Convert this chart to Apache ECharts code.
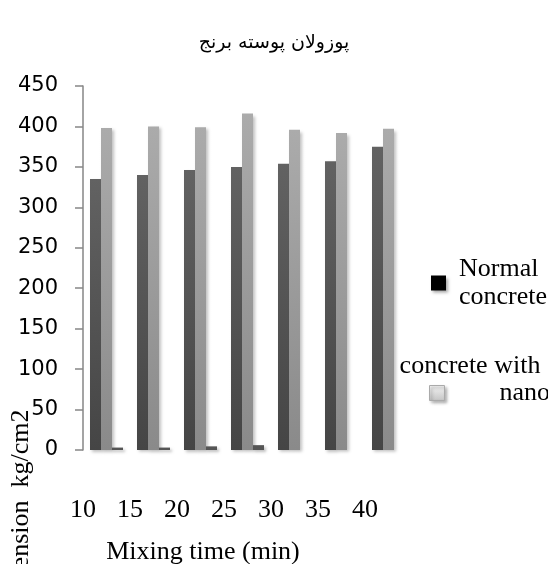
<!DOCTYPE html>
<html><head><meta charset="utf-8">
<script src="https://cdn.jsdelivr.net/npm/echarts@6/dist/echarts.min.js"></script>
<style>html,body{margin:0;padding:0;background:#fff}#c{width:548px;height:564px}</style>
</head><body><div id="c"></div>
<script>
const titleText = 'پوزولان پوسته برنج';
const categories = ['10', '15', '20', '25', '30', '35', '40'];
const normalConcrete = [335, 340, 346, 350, 354, 357, 375];
const nanoConcrete = [398, 400, 399, 416, 396, 392, 397];
const extraSeries = [3, 3, 4.5, 6, 0, 0, 0];
const seriesNames = ['Normal concrete', 'concrete with nano', 'extra'];
const xTitle = 'Mixing time (min)';
const yTitle = 'Tension  kg/cm2';

const serif = '"Liberation Serif", "Times New Roman", serif';
function grad(top, bottom) {
  return new echarts.graphic.LinearGradient(0, 0, 0, 1, [{offset: 0, color: top}, {offset: 1, color: bottom}]);
}
const shadow = {shadowBlur: 3, shadowOffsetX: 2, shadowOffsetY: 2, shadowColor: 'rgba(0,0,0,0.25)'};

const chart = echarts.init(document.getElementById('c'), null, {renderer: 'canvas'});
chart.setOption({
  animation: false,
  backgroundColor: '#fff',
  title: {
    text: titleText, left: 'center', top: 29,
    textStyle: {fontFamily: '"DejaVu Sans", sans-serif', fontSize: 19, fontWeight: 'normal', color: '#000'}
  },
  grid: {left: 83, right: 136, top: 86, bottom: 114, containLabel: false},
  legend: [
    {
      data: [{name: seriesNames[0], itemStyle: {color: '#000', shadowBlur: 3, shadowOffsetX: 2, shadowOffsetY: 2, shadowColor: 'rgba(0,0,0,0.35)'}}],
      left: 431, top: 255, padding: 0, icon: 'rect', itemWidth: 15, itemHeight: 15,
      formatter: () => 'Normal\nconcrete',
      textStyle: {fontFamily: serif, fontSize: 26, lineHeight: 28, color: '#000', padding: [0, 0, 0, 8]},
      selectedMode: false
    },
    {
      data: [{name: seriesNames[1], itemStyle: {color: grad('#f4f4f4', '#c4c4c4'), borderColor: '#aaa', borderWidth: 1, shadowBlur: 3, shadowOffsetX: 2, shadowOffsetY: 2, shadowColor: 'rgba(0,0,0,0.3)'}}],
      left: 429, top: 379, padding: 0, icon: 'rect', itemWidth: 15, itemHeight: 15,
      formatter: () => 'nano',
      textStyle: {fontFamily: serif, fontSize: 26, lineHeight: 28, color: '#000', padding: [0, 0, 0, 50]},
      selectedMode: false
    }
  ],
  graphic: [
    {type: 'text', x: 470, y: 366, style: {text: 'concrete with', font: '26px ' + serif, fill: '#000', textAlign: 'center', textVerticalAlign: 'middle'}},
    {type: 'text', x: 203, y: 552, style: {text: xTitle, font: '26px ' + serif, fill: '#000', textAlign: 'center', textVerticalAlign: 'middle'}},
    {type: 'text', x: 21, y: 496, rotation: Math.PI / 2, style: {text: yTitle, font: '26px ' + serif, fill: '#000', textAlign: 'center', textVerticalAlign: 'middle'}}
  ],
  xAxis: {
    type: 'category', data: categories,
    axisLine: {show: false}, axisTick: {show: false}, splitLine: {show: false},
    axisLabel: {fontFamily: serif, fontSize: 26, color: '#000', margin: 47, padding: [0, 47, 0, 0]}
  },
  yAxis: {
    type: 'value', min: 0, max: 450, interval: 50,
    axisLine: {show: true, lineStyle: {color: '#868686', width: 1.5}},
    axisTick: {show: true, inside: false, length: 8, lineStyle: {color: '#868686', width: 1.5}},
    splitLine: {show: false},
    axisLabel: {fontFamily: '"DejaVu Sans", sans-serif', fontSize: 21, color: '#000', margin: 25}
  },
  series: [
    {name: seriesNames[0], type: 'bar', data: normalConcrete, barWidth: 11, barGap: '0%',
     itemStyle: Object.assign({color: grad('#626262', '#454545')}, shadow)},
    {name: seriesNames[1], type: 'bar', data: nanoConcrete, barWidth: 11, barGap: '0%',
     itemStyle: Object.assign({color: grad('#ababab', '#8a8a8a')}, shadow)},
    {name: seriesNames[2], type: 'bar', data: extraSeries, barWidth: 11, barGap: '0%',
     itemStyle: Object.assign({color: '#555'}, shadow)}
  ]
});
</script></body></html>
